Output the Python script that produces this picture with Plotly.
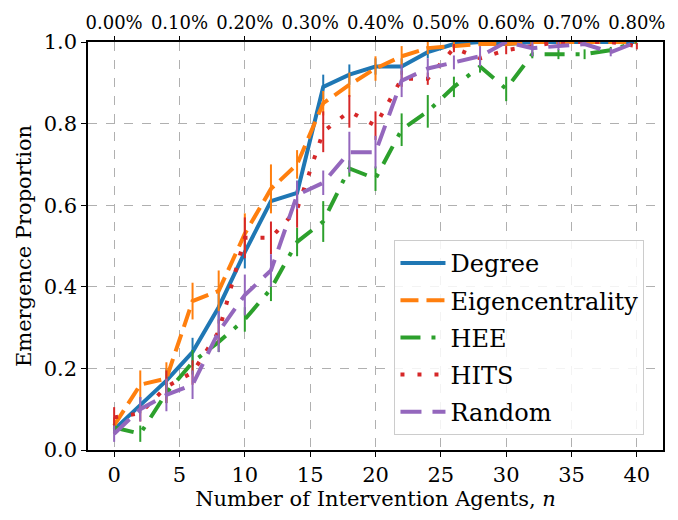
import plotly.graph_objects as go

n_agents = list(range(0, 41, 2))

degree = [0.05, 0.11, 0.17, 0.24, 0.35, 0.485, 0.61, 0.63, 0.89, 0.92, 0.94, 0.94, 0.975, 0.995, 1.0, 0.995, 1.0, 1.0, 1.0, 1.0, 1.0]
degree_err = [0.01, 0.02, 0.03, 0.035, 0.04, 0.04, 0.025, 0.03, 0.03, 0.025, 0.02, 0.02, 0.015, 0.005, 0.0, 0.005, 0.0, 0.0, 0.0, 0.0, 0.0]

eigen = [0.06, 0.16, 0.175, 0.365, 0.39, 0.53, 0.64, 0.70, 0.85, 0.895, 0.935, 0.965, 0.985, 0.99, 0.995, 0.995, 1.0, 1.0, 1.0, 1.0, 1.0]
eigen_err = [0.02, 0.035, 0.04, 0.045, 0.05, 0.05, 0.06, 0.035, 0.03, 0.03, 0.03, 0.025, 0.015, 0.01, 0.005, 0.005, 0.005, 0.0, 0.0, 0.0, 0.0]

hee = [0.055, 0.04, 0.14, 0.215, 0.265, 0.32, 0.395, 0.51, 0.56, 0.69, 0.665, 0.785, 0.83, 0.89, 0.94, 0.885, 0.97, 0.97, 0.97, 0.98, 1.0]
hee_err = [0.01, 0.02, 0.025, 0.03, 0.025, 0.03, 0.03, 0.035, 0.05, 0.02, 0.03, 0.04, 0.04, 0.025, 0.015, 0.03, 0.01, 0.012, 0.012, 0.008, 0.0]

hits = [0.08, 0.09, 0.155, 0.19, 0.29, 0.52, 0.52, 0.59, 0.78, 0.83, 0.795, 0.91, 0.91, 0.985, 0.96, 0.98, 0.99, 1.0, 1.0, 1.0, 0.99]
hits_err = [0.025, 0.02, 0.04, 0.03, 0.03, 0.05, 0.04, 0.045, 0.05, 0.04, 0.035, 0.02, 0.015, 0.01, 0.01, 0.01, 0.005, 0.005, 0.0, 0.0, 0.008]

rand = [0.04, 0.10, 0.135, 0.16, 0.29, 0.38, 0.44, 0.625, 0.655, 0.73, 0.73, 0.905, 0.935, 0.95, 0.965, 1.0, 0.985, 0.99, 0.995, 0.975, 1.0]
rand_err = [0.02, 0.03, 0.04, 0.035, 0.05, 0.05, 0.04, 0.035, 0.03, 0.05, 0.04, 0.04, 0.025, 0.017, 0.025, 0.005, 0.02, 0.01, 0.005, 0.01, 0.0]

top_ticks = [0, 5, 10, 15, 20, 25, 30, 35, 40]
top_labels = ["0.00%", "0.10%", "0.20%", "0.30%", "0.40%", "0.50%", "0.60%", "0.70%", "0.80%"]

series = [
    ("Degree", degree, degree_err, "#1f77b4", "solid"),
    ("Eigencentrality", eigen, eigen_err, "#ff7f0e", "18px,8px"),
    ("HEE", hee, hee_err, "#2ca02c", "20px,11px,4px,11px"),
    ("HITS", hits, hits_err, "#d62728", "4px,13px"),
    ("Random", rand, rand_err, "#9467bd", "21px,11px"),
]

FONT = "DejaVu Serif"
fig = go.Figure()
for i, (name, y, e, c, dash) in enumerate(series):
    fig.add_trace(go.Scatter(
        x=n_agents, y=y, name=name, mode="lines",
        line=dict(color=c, width=4, dash=dash),
        error_y=dict(type="data", array=e, visible=True, color=c, thickness=2, width=0),
        legendgroup=name,
    ))

# invisible trace for top axis
fig.add_trace(go.Scatter(x=[0, 40], y=[0, 0], xaxis="x2", mode="markers",
                         marker=dict(opacity=0), showlegend=False, hoverinfo="skip"))

fig.update_layout(
    width=678, height=520,
    margin=dict(l=88, r=15, t=38, b=70),
    paper_bgcolor="white", plot_bgcolor="white",
    font=dict(family=FONT, size=21, color="black"),
    showlegend=True,
    legend=dict(x=0.533, y=0.515, xanchor="left", yanchor="top",
                bgcolor="rgba(255,255,255,0.85)", bordercolor="#cccccc", borderwidth=1,
                font=dict(family=FONT, size=24, color="black"), itemwidth=45,
                traceorder="grouped", tracegroupgap=3),
    xaxis=dict(range=[-2, 42], tickvals=top_ticks, showgrid=True, gridcolor="#b0b0b0",
               griddash="dash", gridwidth=1, zeroline=False, showline=True, linecolor="black",
               linewidth=1.5, mirror=True, ticks="outside", ticklen=5, tickwidth=1.2,
               tickcolor="black", tickfont=dict(family=FONT, size=21, color="black"),
               title=dict(text="Number of Intervention Agents, <i>n</i>",
                          font=dict(family=FONT, size=21, color="black"), standoff=4)),
    xaxis2=dict(range=[-2, 42], overlaying="x", side="top", tickvals=top_ticks,
                ticktext=top_labels, showgrid=False, zeroline=False, ticks="outside",
                ticklen=5, tickwidth=1.2, tickcolor="black",
                tickfont=dict(family=FONT, size=18, color="black"), showline=False),
    yaxis=dict(range=[0, 1], tickvals=[0, 0.2, 0.4, 0.6, 0.8, 1.0], tickformat=".1f",
               showgrid=True, gridcolor="#b0b0b0", griddash="dash", gridwidth=1,
               zeroline=False, showline=True, linecolor="black", linewidth=1.5, mirror=True,
               ticks="outside", ticklen=5, tickwidth=1.2, tickcolor="black",
               tickfont=dict(family=FONT, size=21, color="black"),
               title=dict(text="Emergence Proportion",
                          font=dict(family=FONT, size=21, color="black"), standoff=6)),
)

fig.write_html("out.html")
